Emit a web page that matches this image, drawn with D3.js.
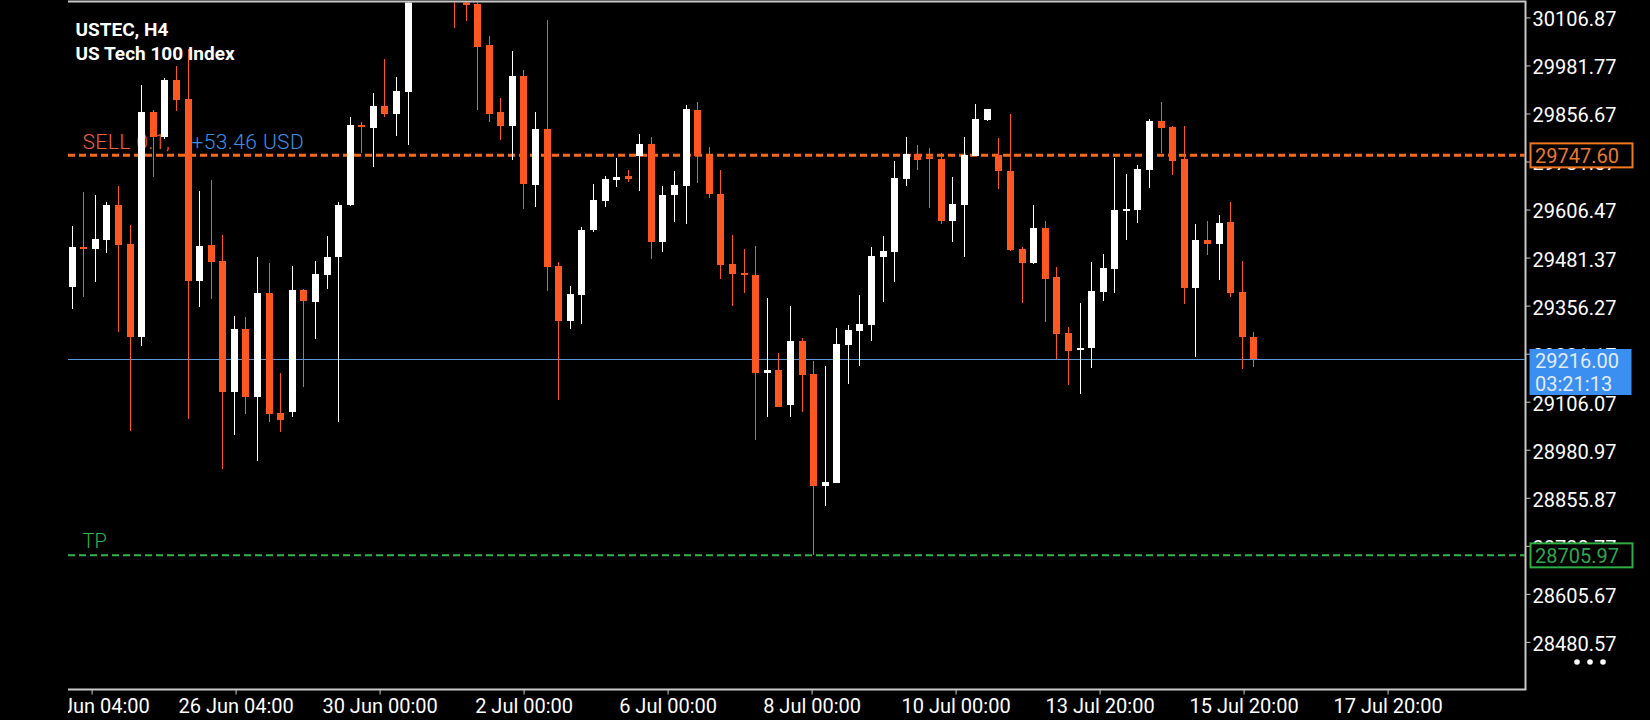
<!DOCTYPE html>
<html><head><meta charset="utf-8">
<script src="https://cdn.jsdelivr.net/npm/d3@7"></script>
<style>
html,body{margin:0;padding:0;background:#000;overflow:hidden;}
svg{display:block;}
text{font-family:Roboto,"Noto Sans","DejaVu Sans",sans-serif;}
</style></head><body>
<svg id="c" width="1650" height="720"></svg>
<script>
// ---- data (H4 candles) ----
const opens = [29403.5,29508.6,29504.0,29527.2,29618.4,29517.0,29275.2,29860.2,29796.0,29943.9,
29894.6,29420.3,29514.2,29472.4,29131.1,29295.7,29119.0,29389.6,29076.2,29079.9,
29397.0,29365.4,29436.1,29482.6,29618.4,29826.7,29819.3,29876.0,29855.5,29912.3,
30190.0,30245.0,30218.0,30182.0,30158.0,30142.9,30035.0,29860.2,29824.8,29954.1,
29671.4,29816.5,29459.4,29317.1,29384.0,29553.3,29628.6,29684.4,29693.7,29745.8,
29777.4,29521.7,29644.4,29667.7,29865.8,29745.8,29647.2,29464.9,29441.7,29436.1,
29181.3,29188.7,29097.6,29264.1,29178.5,28886.5,28894.8,29253.8,29290.1,29305.9,
29482.6,29495.6,29686.3,29751.4,29743.0,29738.4,29576.5,29618.4,29745.8,29839.7,
29748.6,29706.7,29504.0,29467.7,29558.9,29430.5,29285.4,29240.8,29246.4,29392.4,
29451.9,29602.6,29605.4,29709.5,29836.9,29821.1,29738.4,29402.6,29527.2,29517.0,
29573.7,29391.5,29275.2];
const highs = [29563.5,29651.9,29644.4,29625.8,29667.7,29566.3,29930.9,29865.8,29949.5,29980.2,
30023.9,29654.7,29683.5,29540.3,29329.2,29326.4,29482.6,29466.8,29181.3,29459.4,
29400.8,29472.4,29537.5,29625.8,29847.2,29834.1,29910.4,29998.8,29951.3,30230.0,
30262.0,30288.0,30252.0,30221.0,30196.0,30170.0,30058.3,29897.4,30019.2,29969.9,
29860.2,30100.1,29469.6,29407.3,29560.7,29673.3,29693.7,29741.1,29709.5,29803.5,
29795.1,29667.7,29706.7,29878.8,29886.2,29769.0,29709.5,29540.3,29504.0,29511.4,
29376.6,29233.4,29355.2,29272.4,29212.0,29198.9,29298.5,29305.9,29384.0,29508.6,
29537.5,29732.8,29795.1,29774.6,29767.2,29754.2,29690.9,29795.1,29881.6,29868.6,
29793.2,29855.5,29508.6,29618.4,29576.5,29456.6,29300.3,29363.6,29469.6,29491.0,
29741.1,29699.3,29722.5,29842.5,29886.2,29824.0,29824.0,29569.1,29576.5,29592.3,
29625.8,29472.4,29287.3];
const lows = [29347.8,29377.5,29416.6,29493.8,29287.3,29030.6,29252.0,29690.0,29791.4,29863.9,
29062.2,29352.4,29374.7,28932.0,29019.5,29075.3,28952.5,29053.9,29026.0,29066.9,
29143.2,29270.6,29400.8,29053.9,29615.6,29754.2,29717.0,29847.2,29797.9,29775.6,
30172.0,30205.0,30164.0,30079.7,30098.3,29866.7,29833.2,29788.6,29736.5,29609.1,
29611.9,29395.2,29111.5,29296.6,29309.6,29547.7,29612.8,29664.0,29677.9,29654.7,
29478.0,29495.6,29573.7,29569.1,29676.0,29637.0,29425.9,29355.2,29389.6,29006.4,
29066.0,29091.1,29066.0,29079.9,28706.0,28834.4,28894.8,29152.5,29198.9,29264.1,
29365.4,29417.5,29667.7,29709.5,29610.9,29569.1,29521.7,29482.6,29745.8,29836.9,
29660.2,29498.4,29363.6,29464.9,29313.3,29216.6,29149.7,29126.4,29194.3,29368.2,
29389.6,29527.2,29571.9,29663.0,29754.2,29696.5,29360.8,29222.2,29488.2,29423.1,
29379.4,29191.5,29196.2];
const closes = [29508.6,29505.8,29530.0,29618.4,29514.2,29275.2,29860.2,29796.0,29943.9,29891.8,
29420.3,29511.4,29470.5,29131.1,29295.7,29119.0,29389.6,29074.3,29059.5,29397.0,
29368.2,29438.9,29482.6,29618.4,29826.7,29820.2,29876.0,29855.5,29915.1,30190.0,
30245.0,30218.0,30182.0,30158.0,30139.2,30030.4,29855.5,29824.8,29954.1,29673.3,
29816.5,29457.5,29317.1,29386.8,29553.3,29631.4,29686.3,29690.9,29687.2,29777.4,
29521.7,29644.4,29670.5,29868.6,29745.8,29647.2,29462.1,29438.9,29436.1,29181.3,
29188.7,29092.9,29264.1,29175.7,28886.5,28896.7,29256.6,29292.9,29308.7,29485.4,
29498.4,29689.1,29751.4,29735.6,29737.4,29576.5,29621.2,29748.6,29842.5,29868.6,
29706.7,29501.2,29467.7,29558.9,29425.9,29282.6,29238.0,29246.4,29394.2,29454.7,
29605.4,29608.2,29712.3,29836.9,29819.3,29732.8,29402.6,29527.2,29517.0,29571.9,
29389.6,29275.2,29216.0];

const yTickValues = [30106.87,29981.77,29856.67,29731.57,29606.47,29481.37,29356.27,
                     29231.17,29106.07,28980.97,28855.87,28730.77,28605.67,28480.57];
const xTickLabels = ["24 Jun 04:00","26 Jun 04:00","30 Jun 00:00","2 Jul 00:00","6 Jul 00:00",
                     "8 Jul 00:00","10 Jul 00:00","13 Jul 20:00","15 Jul 20:00","17 Jul 20:00"];
const xTickIndex = [1.72,14.15,26.58,39.01,51.44,63.87,76.30,88.73,101.16,113.59];

const sellPrice = 29747.60, tpPrice = 28705.97, bidPrice = 29216.00;
const sellLabel = "SELL 0.1,", profitLabel = "+53.46 USD", timerLabel = "03:21:13";
const titleLines = ["USTEC, H4", "US Tech 100 Index"];

// ---- layout ----
const plotL = 68, plotR = 1525.5, plotT = 1.5, plotB = 689.5;
const x = d3.scaleLinear().domain([0, opens.length - 1]).range([71.67, 1253.3]);
const y = d3.scaleLinear().domain([28355.3, 30147.0]).range([690, 2]);

const ORANGE = "#ff5722", WHITE = "#ffffff";
const svg = d3.select("#c");
svg.append("rect").attr("width",1650).attr("height",720).attr("fill","#000");

const defs = svg.append("defs");
defs.append("clipPath").attr("id","plotclip").append("rect")
  .attr("x",plotL).attr("y",plotT+1).attr("width",plotR-plotL-1).attr("height",plotB-plotT-1);
defs.append("clipPath").attr("id","xclip").append("rect")
  .attr("x",plotL).attr("y",690).attr("width",1650-plotL).attr("height",30);

// title
svg.append("g").selectAll("text").data(titleLines).join("text")
  .attr("x",75.5).attr("y",(d,i)=>36+i*24)
  .attr("fill","#fff").attr("font-size",19).attr("font-weight",700).text(d=>d);

// order labels (behind candles)
const lbl = svg.append("text").attr("x",82.5).attr("y",y(sellPrice)-6)
  .attr("font-size",21).attr("font-weight",300).attr("letter-spacing",0.4);
lbl.append("tspan").attr("fill","#f0603a").text(sellLabel);
lbl.append("tspan").attr("x",191.5).attr("fill","#3f8fe6").text(profitLabel);
svg.append("text").attr("x",82.5).attr("y",y(tpPrice)-7)
  .attr("font-size",20).attr("font-weight",300).attr("fill","#34b44a").text("TP");

// level lines
const lines = svg.append("g").attr("clip-path","url(#plotclip)");
lines.append("line").attr("x1",plotL).attr("x2",plotR).attr("y1",y(sellPrice)).attr("y2",y(sellPrice))
  .attr("stroke","#f5691f").attr("stroke-width",3).attr("stroke-dasharray","7,4");
lines.append("line").attr("x1",plotL).attr("x2",plotR).attr("y1",y(tpPrice)).attr("y2",y(tpPrice))
  .attr("stroke","#33b54a").attr("stroke-width",2).attr("stroke-dasharray","7,4");
lines.append("line").attr("x1",plotL).attr("x2",plotR)
  .attr("y1",Math.round(y(bidPrice))+0.5).attr("y2",Math.round(y(bidPrice))+0.5)
  .attr("stroke","#5b98d8").attr("stroke-width",1);

// candles
const data = opens.map((o,i)=>({i, o, h:highs[i], l:lows[i], c:closes[i]}));
const cg = svg.append("g").attr("clip-path","url(#plotclip)").attr("shape-rendering","crispEdges");
const col = d => d.c > d.o ? WHITE : ORANGE;
cg.selectAll("line.wick").data(data).join("line").attr("class","wick")
  .attr("x1",d=>Math.round(x(d.i))+0.5).attr("x2",d=>Math.round(x(d.i))+0.5)
  .attr("y1",d=>y(d.h)).attr("y2",d=>y(d.l))
  .attr("stroke",col).attr("stroke-width",1);
cg.selectAll("rect.body").data(data).join("rect").attr("class","body")
  .attr("x",d=>Math.round(x(d.i))-3).attr("width",7)
  .attr("y",d=>y(Math.max(d.o,d.c)))
  .attr("height",d=>Math.max(2, Math.abs(y(d.o)-y(d.c))))
  .attr("fill",col);

// frame
svg.append("path")
  .attr("d",`M${plotL},${plotT}H${plotR}V${plotB}H${plotL}`)
  .attr("fill","none").attr("stroke","#c8c8c8").attr("stroke-width",2);

// y axis
const yAxis = d3.axisRight(y).tickValues(yTickValues).tickFormat(d3.format(".2f"))
  .tickSize(5).tickPadding(2);
const yg = svg.append("g").attr("transform",`translate(${plotR},0)`).call(yAxis);
yg.select(".domain").remove();
yg.selectAll(".tick line").attr("stroke","#c8c8c8");
yg.selectAll(".tick text").attr("fill","#ffffff").attr("font-size",20).attr("dy","0.42em")
  .attr("font-family","Roboto, 'Noto Sans', sans-serif");

// x axis
const xAxis = d3.axisBottom(x).tickValues(xTickIndex).tickFormat((d,i)=>xTickLabels[i])
  .tickSize(5).tickPadding(4);
const xg = svg.append("g").attr("transform",`translate(0,${plotB})`).attr("clip-path","url(#xclip)").call(xAxis);
xg.attr("clip-path",null);
xg.select(".domain").remove();
xg.selectAll(".tick line").attr("stroke","#c8c8c8");
xg.selectAll(".tick text").attr("fill","#ffffff").attr("font-size",20)
  .attr("font-family","Roboto, 'Noto Sans', sans-serif");
// clip labels at the plot's left edge
const xwrap = svg.append("g").attr("clip-path","url(#xclip)");
xwrap.node().appendChild(xg.node());

// price boxes on the right
function box(v, stroke, fill, textFill, label) {
  const cy = y(v);
  svg.append("rect").attr("x",1530.5).attr("y",cy-12).attr("width",102).attr("height",24)
    .attr("fill",fill).attr("stroke",stroke).attr("stroke-width",2);
  svg.append("text").attr("x",1535).attr("y",cy).attr("dy","0.36em")
    .attr("fill",textFill).attr("font-size",20).text(label);
}
box(sellPrice, "#f0781e", "#000", "#e8792f", d3.format(".2f")(sellPrice));
box(tpPrice, "#2fae46", "#000", "#2fa84a", d3.format(".2f")(tpPrice));

// bid box (filled blue, two lines)
const by = y(bidPrice);
svg.append("rect").attr("x",1529.5).attr("y",by-10.5).attr("width",102).attr("height",46)
  .attr("fill","#3a8ff0");
svg.append("text").attr("x",1535).attr("y",by+1).attr("dy","0.36em")
  .attr("fill","#e3ebf7").attr("font-size",20).text(d3.format(".2f")(bidPrice));
svg.append("text").attr("x",1535).attr("y",by+24).attr("dy","0.36em")
  .attr("fill","#e3ebf7").attr("font-size",20).text(timerLabel);

// menu dots
svg.append("g").selectAll("circle").data([0,1,2]).join("circle")
  .attr("cx",d=>1577+d*13).attr("cy",662).attr("r",2.8).attr("fill","#fff");
</script>
</body></html>
